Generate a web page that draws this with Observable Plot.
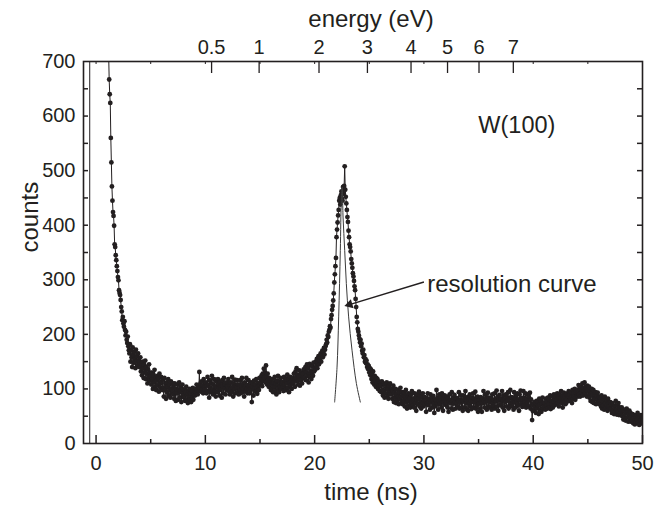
<!DOCTYPE html>
<html><head><meta charset="utf-8">
<script src="https://cdn.jsdelivr.net/npm/d3@7"></script>
<script src="https://cdn.jsdelivr.net/npm/@observablehq/plot@0.6"></script>
<style>body{margin:0;background:#fff}</style>
</head><body><div id="chart"></div>
<script>
// channel width of the time-of-flight spectrum (ns)
const tStep = 0.05;
// counts, t = 1.10 .. 10.00
const startA = 1.10;
const countsA = [
 760, 715, 667, 640, 624, 560, 515, 471, 445, 424, 417, 399, 365, 360, 345, 336, 325, 316, 305, 299,
 281, 276, 272, 263, 250, 242, 226, 232, 220, 214, 224, 208, 198, 205, 190, 184, 196, 178, 171,
 165, 182, 150, 171, 158, 140, 176, 162, 148, 168, 155, 138, 172, 150, 160, 143, 165, 152, 140, 148,
 158, 132, 147, 125, 150, 138, 120, 145, 130, 152, 118, 140, 128, 110, 136, 122, 145, 115, 130, 124,
 108, 130, 118, 100, 126, 112, 135, 104, 120, 98, 116, 124, 106, 119, 95, 128, 110, 102, 122, 113,
 98, 118, 102, 86, 120, 98, 110, 82, 112, 94, 104, 118, 88, 108, 98, 84, 114, 100, 92, 110,
 90, 106, 82, 110, 94, 78, 100, 92, 108, 80, 98, 112, 84, 96, 104, 76, 94, 108, 88, 99,
 84, 98, 78, 94, 104, 80, 90, 74, 96, 86, 100, 80, 92, 76, 96, 84, 102, 80, 90, 97,
 88, 100, 94, 108, 98, 90, 104, 96, 131, 102, 110, 95, 114, 100, 106, 92, 118, 104, 98, 110];
// t = 10.05 .. 20.00
const startB = 10.05;
const countsB = [
 112, 92, 106, 122, 96, 108, 84, 116, 102, 94, 110, 124, 98, 90, 108, 118, 96, 104, 86, 114,
 103, 94, 118, 100, 108, 88, 113, 98, 107, 84, 116, 104, 92, 120, 101, 109, 90, 112, 98, 106,
 104, 118, 96, 108, 90, 112, 100, 94, 122, 103, 86, 110, 99, 117, 92, 106, 102, 116, 94, 108,
 90, 108, 98, 116, 92, 105, 120, 94, 101, 110, 86, 112, 104, 96, 120, 100, 92, 107, 116, 99,
 92, 106, 98, 112, 76, 104, 110, 88, 115, 100, 108, 95, 118, 102, 91, 111, 105, 98, 120, 107,
 118, 110, 125, 105, 128, 115, 137, 120, 130, 112, 143, 122, 108, 128, 116, 104, 120, 110, 115, 98,
 100, 118, 108, 94, 112, 104, 122, 96, 110, 90, 115, 106, 124, 100, 94, 113, 105, 120, 100, 110,
 113, 104, 96, 122, 108, 115, 98, 118, 110, 126, 102, 117, 94, 112, 122, 106, 114, 100, 120, 110,
 112, 128, 118, 104, 132, 120, 138, 114, 126, 108, 122, 134, 106, 125, 116, 130, 110, 127, 120, 136,
 135, 120, 140, 116, 130, 145, 124, 138, 112, 128, 146, 122, 133, 118, 142, 130, 124, 148, 132, 138];
// t = 20.05 .. 30.00
const startC = 20.05;
const countsC = [
 135, 150, 142, 155, 138, 148, 160, 145, 152, 158, 165, 150, 162, 170, 158, 168, 175, 163, 172, 178,
 182, 190, 185, 198, 195, 205, 208, 215, 212, 228, 235, 245, 252, 262, 275, 295, 310, 325, 340, 378,
 392, 405, 418, 428, 445, 450, 438, 455, 462, 448, 445, 470, 458, 472, 508, 465, 452, 440, 428, 415,
 406, 390, 378, 365, 360, 352, 338, 330, 322, 312, 306, 298, 288, 281, 265, 250, 232, 222, 210, 205,
 198, 192, 185, 190, 178, 183, 170, 165, 172, 158, 162, 150, 155, 147, 152, 140, 145, 136, 142, 130,
 138, 125, 136, 118, 128, 112, 132, 120, 108, 124, 115, 104, 120, 110, 118, 100, 114, 106, 96, 112,
 106, 94, 114, 98, 88, 110, 96, 84, 108, 92, 102, 112, 86, 99, 82, 106, 94, 110, 90, 100,
 100, 82, 96, 106, 76, 93, 84, 100, 74, 90, 80, 98, 86, 72, 94, 82, 102, 86, 76, 94,
 72, 90, 78, 94, 68, 84, 98, 76, 64, 88, 78, 92, 70, 83, 66, 90, 76, 96, 80, 70,
 82, 66, 92, 74, 86, 60, 80, 90, 72, 82, 95, 68, 88, 76, 64, 86, 74, 92, 68, 80];
// t = 30.05 .. 40.00
const startD = 30.05;
const countsD = [
 72, 85, 78, 58, 80, 74, 92, 70, 76, 82, 62, 90, 75, 84, 66, 79, 87, 73, 56, 81,
 68, 79, 98, 73, 84, 62, 78, 90, 72, 80, 86, 66, 92, 76, 60, 83, 75, 88, 71, 79,
 75, 86, 66, 82, 58, 77, 90, 74, 80, 64, 94, 78, 62, 84, 73, 89, 76, 64, 82, 74,
 83, 68, 78, 94, 64, 80, 75, 88, 66, 78, 60, 88, 77, 82, 66, 96, 74, 80, 62, 85,
 60, 81, 74, 90, 68, 79, 63, 84, 76, 92, 66, 82, 75, 95, 64, 80, 70, 86, 58, 78,
 73, 80, 64, 85, 76, 58, 82, 74, 96, 78, 66, 90, 75, 83, 62, 79, 93, 68, 84, 77,
 66, 83, 76, 62, 90, 74, 80, 68, 92, 64, 82, 77, 97, 68, 85, 60, 79, 89, 70, 81,
 82, 72, 96, 66, 79, 88, 60, 81, 76, 90, 68, 84, 78, 94, 64, 83, 70, 98, 74, 85,
 68, 84, 78, 62, 94, 75, 82, 66, 88, 77, 92, 70, 81, 60, 90, 79, 97, 72, 83, 67,
 80, 96, 70, 84, 76, 92, 66, 82, 74, 90, 68, 85, 79, 93, 64, 81, 72, 43, 60, 70];
// t = 40.05 .. 50.00
const startE = 40.05;
const countsE = [
 60, 76, 66, 74, 56, 78, 64, 76, 69, 54, 82, 71, 62, 78, 58, 73, 84, 64, 75, 68,
 75, 62, 82, 69, 77, 64, 84, 72, 80, 66, 88, 63, 78, 72, 86, 66, 76, 90, 70, 80,
 86, 72, 80, 92, 74, 86, 68, 90, 78, 83, 96, 74, 87, 66, 82, 93, 76, 86, 72, 90,
 75, 92, 80, 87, 96, 78, 89, 82, 94, 85, 74, 98, 82, 91, 86, 100, 80, 94, 86, 96,
 98, 86, 107, 90, 102, 86, 104, 94, 98, 110, 88, 102, 96, 112, 92, 104, 98, 86, 106, 96,
 88, 104, 84, 96, 78, 92, 100, 76, 88, 98, 74, 90, 82, 94, 72, 87, 80, 93, 76, 85,
 86, 72, 84, 68, 88, 64, 78, 70, 82, 62, 86, 74, 66, 80, 70, 60, 82, 68, 76, 64,
 76, 62, 72, 56, 74, 60, 70, 54, 68, 58, 78, 62, 53, 70, 58, 74, 52, 66, 56, 62,
 52, 66, 50, 60, 44, 62, 48, 58, 42, 56, 64, 48, 58, 40, 54, 60, 46, 56, 40, 52,
 42, 54, 37, 52, 44, 35, 50, 40, 52, 44, 56, 38, 48, 34, 50, 42, 52, 37, 46, 45];

// resolution curve
const resTime   = [21.83, 22.05, 22.2, 22.35, 22.44, 22.52, 22.6, 22.75, 22.9, 23.11, 23.42, 23.82, 24.18];
const resCounts = [76, 140, 232, 354, 446, 470, 415, 354, 293, 232, 171, 110, 76];

// axes
const xMajorTicks = [0, 10, 20, 30, 40, 50];
const xMinorTicks = [5, 15, 25, 35, 45];
const yLabelTicks = [0, 100, 200, 300, 400, 500, 600, 700];
const ySideTicks = [50, 100, 150, 200, 250, 300, 350, 400, 450, 500, 550, 600, 650];
const energyLabels = ["0.5", "1", "2", "3", "4", "5", "6", "7"];
const energyTickTimes = [10.57, 14.92, 20.4, 24.83, 28.82, 32.16, 35.04, 38.18];
const topMinorTicks = [0, 5, 10, 15, 20, 25, 30, 40, 45];
const startLineTime = -0.58;

// annotations
const annText = "resolution curve";
const annFrom = {t: 30.0, c: 296};
const annTo = {t: 22.96, c: 253};
const annHead = {t: 23.2, c: 254.6};
const annTextPos = {t: 30.3, c: 292};
const sampleLabel = "W(100)";
const sampleLabelPos = {t: 38.5, c: 583};

const seg = (start, arr) => arr.map((c, i) => ({t: +(start + i * tStep).toFixed(3), c}));
const data = [
  ...seg(startA, countsA), ...seg(startB, countsB), ...seg(startC, countsC),
  ...seg(startD, countsD), ...seg(startE, countsE)
];
const res = resTime.map((t, i) => ({t, c: resCounts[i]}));
const energy = energyLabels.map((e, i) => ({e, t: energyTickTimes[i]}));

const W = 665, H = 507, mL = 83, mR = 23, mT = 61, mB = 64;
const iW = W - mL - mR, iH = H - mT - mB;
const ink = "#231f20";

const chart = Plot.plot({
  width: W, height: H,
  marginLeft: mL, marginRight: mR, marginTop: mT, marginBottom: mB,
  x: {domain: [-1.15, 50]},
  y: {domain: [0, 700]},
  style: {fontFamily: "'Liberation Sans', Arial, sans-serif", fontSize: "20px", color: ink, background: "#fff", overflow: "visible"},
  marks: [
    Plot.ruleX([startLineTime], {stroke: ink, strokeWidth: 1}),
    Plot.line(data, {x: "t", y: "c", stroke: ink, strokeWidth: 1, clip: true}),
    Plot.dot(data, {x: "t", y: "c", r: 2.4, fill: ink, clip: true}),
    Plot.line(res, {x: "t", y: "c", stroke: "#3a3a3a", strokeWidth: 1, curve: "catmull-rom"}),
    Plot.link([annFrom], {x1: "t", y1: "c", x2: () => annTo.t, y2: () => annTo.c, stroke: ink, strokeWidth: 1.4}),
    Plot.dot([annHead], {x: "t", y: "c", symbol: "triangle", r: 3.5, rotate: 253.4, fill: ink, stroke: "none"}),
    Plot.text([annText], {x: annTextPos.t, y: annTextPos.c, textAnchor: "start", lineAnchor: "middle", fontSize: 24, fill: ink}),
    Plot.text([sampleLabel], {x: sampleLabelPos.t, y: sampleLabelPos.c, textAnchor: "middle", lineAnchor: "middle", fontSize: 23.5, fill: ink}),
    // inward ticks
    Plot.tickX(xMajorTicks, {x: d => d, insetTop: iH - 8, stroke: ink, strokeWidth: 1.5}),
    Plot.tickX(xMinorTicks, {x: d => d, insetTop: iH - 4, stroke: ink, strokeWidth: 1.5}),
    Plot.tickX(energy, {x: "t", insetBottom: iH - 12, stroke: ink, strokeWidth: 1.3}),
    Plot.tickX(topMinorTicks, {x: d => d, insetBottom: iH - 3, stroke: ink, strokeWidth: 1}),
    Plot.tickY(ySideTicks, {y: d => d, insetRight: iW - 5, stroke: ink, strokeWidth: 1.5}),
    Plot.tickY(ySideTicks, {y: d => d, insetLeft: iW - 5, stroke: ink, strokeWidth: 1.5}),
    Plot.frame({stroke: ink, strokeWidth: 1.6}),
    // labels
    Plot.axisX({ticks: xMajorTicks, tickSize: 0, tickPadding: 12, label: null, fontSize: 20}),
    Plot.axisY({ticks: yLabelTicks, tickSize: 0, tickPadding: 8, label: null, fontSize: 20}),
    Plot.text(energy, {x: "t", text: "e", frameAnchor: "top", dy: -8, lineAnchor: "bottom", fontSize: 20, fill: ink}),
    Plot.text(["energy (eV)"], {frameAnchor: "top", dx: 8, dy: -35, lineAnchor: "bottom", fontSize: 24, fill: ink}),
    Plot.text(["time (ns)"], {frameAnchor: "bottom", dx: 8, dy: 39, lineAnchor: "top", fontSize: 24, fill: ink}),
    Plot.text(["counts"], {frameAnchor: "left", dx: -53, rotate: -90, lineAnchor: "middle", fontSize: 24, fill: ink})
  ]
});
document.getElementById("chart").appendChild(chart);
</script>
</body></html>
